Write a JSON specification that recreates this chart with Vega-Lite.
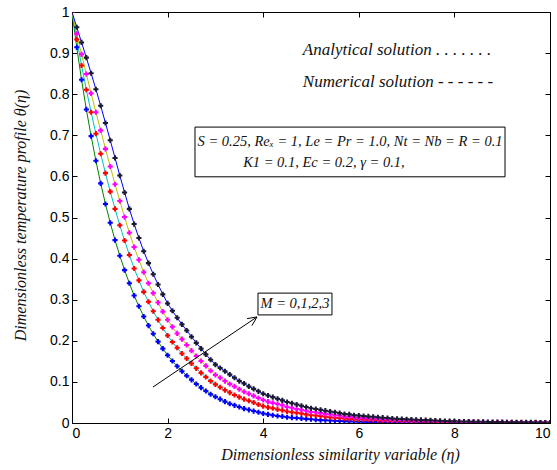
{
  "$schema": "https://vega.github.io/schema/vega-lite/v6.json",
  "width": 478,
  "height": 411,
  "autosize": {"type": "none"},
  "padding": {"left": 72, "top": 12, "right": 7, "bottom": 47},
  "background": "white",
  "config": {
    "view": {"stroke": "black", "strokeWidth": 1},
    "axis": {"grid": false, "domainColor": "black", "tickColor": "black", "labelColor": "#000", "labelFont": "Liberation Sans", "labelFontSize": 14, "titleFont": "'Liberation Serif', 'Times New Roman', serif", "titleFontStyle": "italic", "titleFontWeight": "normal", "titleFontSize": 16, "titleColor": "#111"}
  },
  "datasets": {
    "curves": [
      {"e":0,"a":1,"b":1,"c":1,"d":1},
      {"e":0.1,"a":0.914,"b":0.933,"c":0.947,"d":0.963},
      {"e":0.2,"a":0.835,"b":0.870,"c":0.897,"d":0.926},
      {"e":0.3,"a":0.763,"b":0.811,"c":0.849,"d":0.889},
      {"e":0.4,"a":0.698,"b":0.756,"c":0.802,"d":0.851},
      {"e":0.5,"a":0.638,"b":0.704,"c":0.756,"d":0.812},
      {"e":0.6,"a":0.583,"b":0.655,"c":0.712,"d":0.772},
      {"e":0.7,"a":0.533,"b":0.608,"c":0.667,"d":0.730},
      {"e":0.8,"a":0.487,"b":0.563,"c":0.624,"d":0.688},
      {"e":0.9,"a":0.445,"b":0.521,"c":0.581,"d":0.645},
      {"e":1.0,"a":0.407,"b":0.481,"c":0.540,"d":0.602},
      {"e":1.1,"a":0.372,"b":0.444,"c":0.501,"d":0.561},
      {"e":1.2,"a":0.340,"b":0.409,"c":0.463,"d":0.521},
      {"e":1.3,"a":0.310,"b":0.376,"c":0.428,"d":0.484},
      {"e":1.4,"a":0.284,"b":0.347,"c":0.397,"d":0.450},
      {"e":1.5,"a":0.259,"b":0.319,"c":0.367,"d":0.418},
      {"e":1.6,"a":0.237,"b":0.295,"c":0.340,"d":0.389},
      {"e":1.7,"a":0.217,"b":0.272,"c":0.316,"d":0.362},
      {"e":1.8,"a":0.198,"b":0.251,"c":0.293,"d":0.337},
      {"e":1.9,"a":0.181,"b":0.231,"c":0.271,"d":0.313},
      {"e":2.0,"a":0.165,"b":0.213,"c":0.251,"d":0.291},
      {"e":2.1,"a":0.151,"b":0.197,"c":0.234,"d":0.273},
      {"e":2.2,"a":0.138,"b":0.183,"c":0.218,"d":0.256},
      {"e":2.3,"a":0.126,"b":0.169,"c":0.204,"d":0.240},
      {"e":2.4,"a":0.115,"b":0.157,"c":0.190,"d":0.225},
      {"e":2.5,"a":0.105,"b":0.145,"c":0.176,"d":0.210},
      {"e":2.6,"a":0.095,"b":0.133,"c":0.163,"d":0.195},
      {"e":2.7,"a":0.086,"b":0.122,"c":0.151,"d":0.181},
      {"e":2.8,"a":0.078,"b":0.112,"c":0.139,"d":0.167},
      {"e":2.9,"a":0.070,"b":0.102,"c":0.127,"d":0.154},
      {"e":3.0,"a":0.064,"b":0.094,"c":0.117,"d":0.142},
      {"e":3.1,"a":0.058,"b":0.087,"c":0.110,"d":0.134},
      {"e":3.2,"a":0.052,"b":0.080,"c":0.102,"d":0.126},
      {"e":3.3,"a":0.047,"b":0.074,"c":0.095,"d":0.118},
      {"e":3.4,"a":0.043,"b":0.068,"c":0.089,"d":0.110},
      {"e":3.5,"a":0.039,"b":0.063,"c":0.082,"d":0.102},
      {"e":3.6,"a":0.035,"b":0.058,"c":0.076,"d":0.096},
      {"e":3.7,"a":0.032,"b":0.054,"c":0.071,"d":0.089},
      {"e":3.8,"a":0.029,"b":0.050,"c":0.066,"d":0.083},
      {"e":3.9,"a":0.026,"b":0.045,"c":0.061,"d":0.077},
      {"e":4.0,"a":0.023,"b":0.041,"c":0.056,"d":0.071},
      {"e":4.1,"a":0.021,"b":0.038,"c":0.052,"d":0.067},
      {"e":4.2,"a":0.019,"b":0.036,"c":0.049,"d":0.063},
      {"e":4.3,"a":0.017,"b":0.033,"c":0.046,"d":0.059},
      {"e":4.4,"a":0.016,"b":0.031,"c":0.043,"d":0.055},
      {"e":4.5,"a":0.014,"b":0.028,"c":0.039,"d":0.051},
      {"e":4.6,"a":0.013,"b":0.026,"c":0.037,"d":0.048},
      {"e":4.7,"a":0.012,"b":0.025,"c":0.034,"d":0.045},
      {"e":4.8,"a":0.011,"b":0.023,"c":0.032,"d":0.042},
      {"e":4.9,"a":0.010,"b":0.021,"c":0.030,"d":0.039},
      {"e":5.0,"a":0.009,"b":0.019,"c":0.027,"d":0.036},
      {"e":5.1,"a":0.008,"b":0.018,"c":0.026,"d":0.034},
      {"e":5.2,"a":0.007,"b":0.017,"c":0.024,"d":0.032},
      {"e":5.3,"a":0.0066,"b":0.015,"c":0.022,"d":0.030},
      {"e":5.4,"a":0.006,"b":0.014,"c":0.021,"d":0.028},
      {"e":5.5,"a":0.0054,"b":0.013,"c":0.019,"d":0.026},
      {"e":5.6,"a":0.0049,"b":0.012,"c":0.018,"d":0.024},
      {"e":5.7,"a":0.0044,"b":0.011,"c":0.016,"d":0.022},
      {"e":5.8,"a":0.004,"b":0.010,"c":0.015,"d":0.021},
      {"e":5.9,"a":0.0036,"b":0.0094,"c":0.014,"d":0.019},
      {"e":6.0,"a":0.0033,"b":0.0089,"c":0.013,"d":0.018},
      {"e":6.1,"a":0.003,"b":0.0083,"c":0.0125,"d":0.017},
      {"e":6.2,"a":0.0027,"b":0.0078,"c":0.0117,"d":0.016},
      {"e":6.3,"a":0.0024,"b":0.0073,"c":0.011,"d":0.015},
      {"e":6.4,"a":0.0022,"b":0.0067,"c":0.0102,"d":0.014},
      {"e":6.5,"a":0.002,"b":0.0062,"c":0.0095,"d":0.013},
      {"e":6.6,"a":0.0018,"b":0.0057,"c":0.0088,"d":0.012},
      {"e":6.7,"a":0.0016,"b":0.0052,"c":0.008,"d":0.011},
      {"e":6.8,"a":0.0015,"b":0.0047,"c":0.0073,"d":0.010},
      {"e":6.9,"a":0.0013,"b":0.0044,"c":0.0069,"d":0.0095},
      {"e":7.0,"a":0.0012,"b":0.0042,"c":0.0065,"d":0.009},
      {"e":7.1,"a":0.0011,"b":0.004,"c":0.0061,"d":0.0085},
      {"e":7.2,"a":0.001,"b":0.0037,"c":0.0058,"d":0.008},
      {"e":7.3,"a":0.0009,"b":0.0034,"c":0.0054,"d":0.0075},
      {"e":7.4,"a":0.0008,"b":0.0032,"c":0.005,"d":0.007},
      {"e":7.5,"a":0.0007,"b":0.003,"c":0.0046,"d":0.0065},
      {"e":7.6,"a":0.0007,"b":0.0027,"c":0.0043,"d":0.006},
      {"e":7.7,"a":0.0006,"b":0.0025,"c":0.0039,"d":0.0055},
      {"e":7.8,"a":0.0005,"b":0.0023,"c":0.0036,"d":0.005},
      {"e":7.9,"a":0.0005,"b":0.002,"c":0.0032,"d":0.0045},
      {"e":8.0,"a":0.0004,"b":0.0018,"c":0.0029,"d":0.004},
      {"e":8.1,"a":0.0004,"b":0.0017,"c":0.0027,"d":0.0038},
      {"e":8.2,"a":0.0004,"b":0.0016,"c":0.0026,"d":0.0036},
      {"e":8.3,"a":0.0003,"b":0.0015,"c":0.0025,"d":0.0034},
      {"e":8.4,"a":0.0003,"b":0.0014,"c":0.0023,"d":0.0032},
      {"e":8.5,"a":0.0003,"b":0.0013,"c":0.0022,"d":0.003},
      {"e":8.6,"a":0.0003,"b":0.0012,"c":0.0021,"d":0.0028},
      {"e":8.7,"a":0.0002,"b":0.0011,"c":0.0019,"d":0.0026},
      {"e":8.8,"a":0.0002,"b":0.0011,"c":0.0018,"d":0.0025},
      {"e":8.9,"a":0.0002,"b":0.001,"c":0.0017,"d":0.0023},
      {"e":9.0,"a":0.0002,"b":0.0009,"c":0.0016,"d":0.0022},
      {"e":9.1,"a":0.0002,"b":0.0009,"c":0.0015,"d":0.002},
      {"e":9.2,"a":0.0002,"b":0.0008,"c":0.0014,"d":0.0019},
      {"e":9.3,"a":0.0001,"b":0.0008,"c":0.0013,"d":0.0018},
      {"e":9.4,"a":0.0001,"b":0.0007,"c":0.0012,"d":0.0017},
      {"e":9.5,"a":0.0001,"b":0.0007,"c":0.0011,"d":0.0016},
      {"e":9.6,"a":0.0001,"b":0.0006,"c":0.0011,"d":0.0015},
      {"e":9.7,"a":0.0001,"b":0.0006,"c":0.001,"d":0.0014},
      {"e":9.8,"a":0.0001,"b":0.0005,"c":0.0009,"d":0.0013},
      {"e":9.9,"a":0.0001,"b":0.0005,"c":0.0009,"d":0.0012},
      {"e":10,"a":0.0001,"b":0.0004,"c":0.0008,"d":0.0011}
    ],
    "boxes": [
      {"x": 2.573, "x2": 9.059, "y": 0.720, "y2": 0.599},
      {"x": 3.891, "x2": 5.439, "y": 0.316, "y2": 0.263}
    ],
    "arrow": [
      {"x": 1.695, "y": 0.0876, "x2": 3.870, "y2": 0.258},
      {"x": 3.663, "y": 0.254, "x2": 3.870, "y2": 0.258},
      {"x": 3.764, "y": 0.237, "x2": 3.870, "y2": 0.258}
    ],
    "legendnotes": [
      {"x": 4.83, "y": 0.908, "t": "Analytical  solution . . . . . . ."},
      {"x": 4.83, "y": 0.829, "t": "Numerical  solution - - - - - -"}
    ],
    "boxnotes": [
      {"x": 5.816, "y": 0.684, "t": "S = 0.25, Reₓ = 1, Le = Pr = 1.0, Nt = Nb = R = 0.1"},
      {"x": 5.27, "y": 0.633, "t": "K1 = 0.1, Ec = 0.2, γ = 0.1,"},
      {"x": 4.665, "y": 0.290, "t": "M = 0,1,2,3"}
    ]
  },
  "resolve": {"scale": {"color": "independent"}, "axis": {"x": "independent", "y": "independent"}},
  "layer": [
    {
      "data": {"name": "boxes"},
      "mark": {"type": "rect", "fill": "white", "stroke": "black", "strokeWidth": 1},
      "encoding": {
        "x": {"field": "x", "type": "quantitative", "scale": {"domain": [0, 10], "nice": false}, "axis": null},
        "x2": {"field": "x2"},
        "y": {"field": "y", "type": "quantitative", "scale": {"domain": [0, 1], "nice": false}, "axis": null},
        "y2": {"field": "y2"}
      }
    },
    {
      "data": {"name": "curves"},
      "transform": [{"fold": ["a", "b", "c", "d"], "as": ["s", "v"]}],
      "mark": {"type": "line", "strokeWidth": 1, "clip": true},
      "encoding": {
        "x": {"field": "e", "type": "quantitative", "scale": {"domain": [0, 10], "nice": false},
              "axis": {"values": [0, 2, 4, 6, 8, 10], "format": "d", "tickSize": -5, "labelPadding": 8, "domain": false,
                       "title": "Dimensionless similarity variable (η)", "titleX": 268, "titleY": 36, "titleBaseline": "alphabetic", "titleAnchor": "middle"}},
        "y": {"field": "v", "type": "quantitative", "scale": {"domain": [0, 1], "nice": false},
              "axis": {"values": [0, 0.1, 0.2, 0.3, 0.4, 0.5, 0.6, 0.7, 0.8, 0.9, 1], "format": ".1~f", "tickSize": -5, "labelPadding": 8, "domain": false,
                       "title": "Dimensionless temperature profile θ(η)", "titleX": -44, "titleY": 203, "titleAnchor": "middle"}},
        "color": {"field": "s", "type": "nominal", "scale": {"domain": ["a", "b", "c", "d"], "range": ["#008000", "#00BFBF", "#BFBF00", "#0000FF"]}, "legend": null},
        "detail": {"field": "s"}
      }
    },
    {
      "data": {"name": "curves"},
      "transform": [{"fold": ["a", "b", "c", "d"], "as": ["s", "v"]}],
      "mark": {"type": "point", "shape": "cross", "filled": true, "size": 26, "opacity": 1, "clip": true},
      "encoding": {
        "x": {"field": "e", "type": "quantitative", "scale": {"domain": [0, 10], "nice": false},
              "axis": {"orient": "top", "values": [0, 2, 4, 6, 8, 10], "labels": false, "tickSize": -5, "domain": false, "title": null}},
        "y": {"field": "v", "type": "quantitative", "scale": {"domain": [0, 1], "nice": false},
              "axis": {"orient": "right", "values": [0, 0.1, 0.2, 0.3, 0.4, 0.5, 0.6, 0.7, 0.8, 0.9, 1], "labels": false, "tickSize": -5, "domain": false, "title": null}},
        "color": {"field": "s", "type": "nominal", "scale": {"domain": ["a", "b", "c", "d"], "range": ["#0000FF", "#FF0000", "#FF00FF", "#1a1a33"]}, "legend": null}
      }
    },
    {
      "data": {"name": "arrow"},
      "mark": {"type": "rule", "color": "black", "strokeWidth": 1},
      "encoding": {
        "x": {"field": "x", "type": "quantitative", "axis": null},
        "y": {"field": "y", "type": "quantitative", "axis": null},
        "x2": {"field": "x2"},
        "y2": {"field": "y2"}
      }
    },
    {
      "data": {"name": "legendnotes"},
      "mark": {"type": "text", "font": "'Liberation Serif', 'Times New Roman', serif", "fontStyle": "italic", "fontSize": 17, "color": "#111", "baseline": "middle", "align": "left"},
      "encoding": {
        "x": {"field": "x", "type": "quantitative", "axis": null},
        "y": {"field": "y", "type": "quantitative", "axis": null},
        "text": {"field": "t"}
      }
    },
    {
      "data": {"name": "boxnotes"},
      "mark": {"type": "text", "font": "'Liberation Serif', 'Times New Roman', serif", "fontStyle": "italic", "fontSize": 14.5, "color": "#111", "baseline": "middle", "align": "center"},
      "encoding": {
        "x": {"field": "x", "type": "quantitative", "axis": null},
        "y": {"field": "y", "type": "quantitative", "axis": null},
        "text": {"field": "t"}
      }
    }
  ]
}
